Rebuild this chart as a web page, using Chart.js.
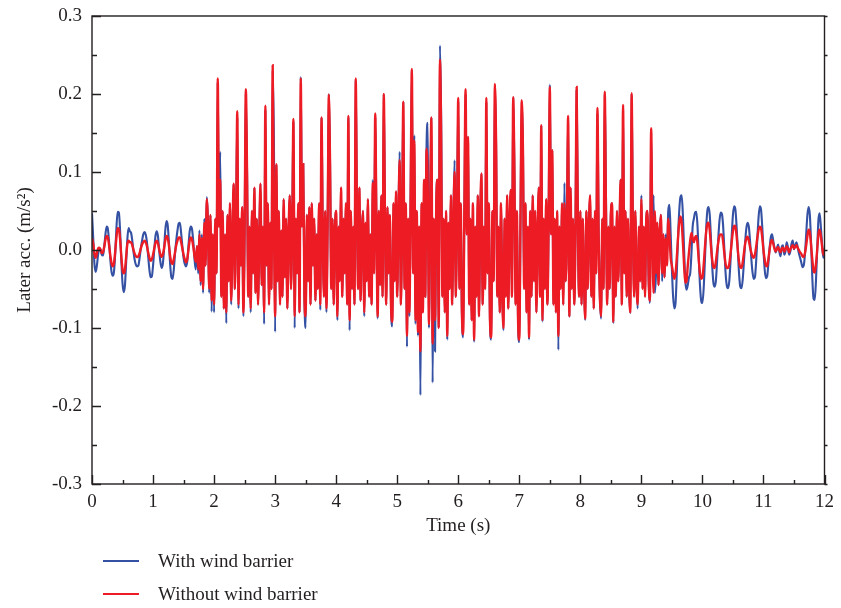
<!DOCTYPE html>
<html>
<head>
<meta charset="utf-8">
<script src="https://cdn.jsdelivr.net/npm/chart.js@4.4.1/dist/chart.umd.min.js"></script>
<style>
  body { margin: 0; background: #fff; }
  #wrap { position: relative; width: 841px; height: 608px; }
  #legend {
    position: absolute; left: 103px; top: 544px;
    font-family: "Liberation Serif", "DejaVu Serif", serif; font-size: 19px; color: #231f20;
  }
  .row { display: flex; align-items: center; height: 33px; }
  .swatch { width: 36px; height: 2px; margin-right: 19px; }
</style>
</head>
<body>
<div id="wrap">
  <canvas id="chart"></canvas>
  <div id="legend"></div>
</div>
<script>
// sampling step of the records (s), one row = 0.2 s
const timeStep = 0.02;

// Lateral acceleration (m/s2), with wind barrier
const withBarrier = [
  0.047, 0.015, -0.018, -0.028, -0.02, -0.006, 0.002, 0.001, -0.006, -0.007,
  0.004, 0.02, 0.03, 0.027, 0.01, -0.012, -0.028, -0.033, -0.028, -0.005,
  0.028, 0.049, 0.048, 0.025, -0.012, -0.043, -0.054, -0.045, -0.015, 0.015,
  0.028, 0.024, 0.022, 0.012, -0.002, -0.013, -0.019, -0.021, -0.02, -0.01,
  0.002, 0.012, 0.02, 0.023, 0.02, 0.01, -0.008, -0.025, -0.035, -0.034,
  // 1 s
  -0.02, 0.0, 0.018, 0.024, 0.018, 0.0, -0.015, -0.023, -0.018, 0.0,
  0.025, 0.037, 0.032, 0.01, -0.018, -0.035, -0.037, -0.025, -0.005, 0.012,
  0.025, 0.034, 0.035, 0.022, 0.005, -0.01, -0.018, -0.021, -0.015, 0.005,
  0.024, 0.03, 0.026, 0.01, -0.012, -0.025, 0.005, -0.03, 0.025, -0.045,
  0.02, -0.055, 0.04, -0.02, 0.068, 0.035, -0.055, 0.045, -0.079, 0.02,
  // 2 s
  -0.08, 0.04, -0.03, 0.215, 0.03, 0.126, -0.06, 0.05, -0.075, 0.02,
  -0.094, 0.045, -0.04, 0.06, -0.07, 0.01, 0.085, -0.05, 0.03, 0.17,
  -0.075, 0.04, -0.02, 0.055, -0.085, 0.02, 0.2, 0.1, -0.06, 0.03,
  -0.08, 0.05, -0.03, 0.08, -0.055, 0.04, -0.07, 0.015, 0.085, -0.045,
  0.03, -0.095, 0.18, -0.02, 0.06, -0.07, 0.035, -0.05, 0.23, 0.14,
  // 3 s
  -0.105, 0.11, -0.04, 0.05, -0.07, 0.025, -0.06, 0.065, -0.035, 0.04,
  -0.075, 0.02, 0.07, -0.05, 0.03, 0.165, -0.1, 0.04, -0.03, 0.06,
  -0.08, 0.222, 0.03, 0.11, -0.06, -0.1, 0.045, -0.04, 0.055, -0.07,
  0.06, -0.02, 0.04, -0.065, 0.02, -0.05, 0.06, -0.077, 0.17, 0.02,
  -0.06, 0.05, -0.08, 0.03, 0.2, 0.11, -0.05, 0.04, -0.07, 0.025,
  // 4 s
  0.05, -0.09, 0.03, -0.04, 0.08, -0.06, 0.04, -0.03, 0.06, -0.07,
  0.17, -0.103, 0.05, -0.05, 0.03, -0.07, 0.218, 0.06, -0.05, 0.08,
  -0.065, 0.02, 0.05, -0.085, 0.035, -0.04, 0.065, -0.06, 0.02, -0.07,
  0.09, -0.03, 0.17, 0.03, -0.088, 0.05, -0.045, 0.07, -0.06, 0.2,
  0.04, -0.07, 0.055, -0.03, 0.045, -0.075, -0.098, 0.06, -0.04, 0.075,
  // 5 s
  -0.06, 0.04, 0.126, -0.07, 0.03, 0.19, -0.05, 0.06, -0.124, 0.04,
  -0.085, 0.07, 0.23, -0.03, 0.147, -0.095, 0.05, -0.11, 0.03, -0.186,
  0.06, -0.08, 0.09, -0.06, 0.13, 0.163, -0.1, 0.05, 0.17, -0.17,
  0.04, -0.13, 0.06, 0.09, -0.1, 0.262, 0.169, -0.06, 0.04, -0.08,
  0.05, -0.115, 0.035, -0.05, 0.07, -0.07, 0.03, 0.115, -0.06, 0.04,
  // 6 s
  0.19, -0.05, 0.06, -0.08, -0.112, 0.05, 0.2, 0.02, 0.145, -0.07,
  0.04, -0.09, 0.06, -0.118, 0.03, -0.06, 0.07, -0.085, 0.04, 0.098,
  -0.07, 0.03, -0.05, 0.19, -0.03, 0.06, -0.09, -0.115, 0.05, -0.04,
  0.21, 0.135, -0.06, 0.03, -0.08, 0.06, -0.05, -0.103, 0.04, -0.06,
  0.07, -0.075, 0.03, 0.077, -0.06, 0.196, 0.1, -0.07, 0.05, -0.09,
  // 7 s
  -0.118, 0.04, 0.19, 0.128, -0.05, 0.06, -0.08, 0.03, -0.115, 0.05,
  -0.06, 0.07, -0.04, 0.05, -0.08, 0.02, 0.08, -0.06, 0.16, -0.092,
  0.04, -0.05, 0.065, -0.07, 0.03, 0.212, 0.02, 0.128, -0.07, 0.04,
  -0.08, 0.05, -0.128, 0.03, -0.05, 0.06, -0.07, 0.086, -0.04, 0.03,
  0.17, -0.086, 0.08, -0.05, 0.04, -0.07, 0.02, 0.205, 0.03, -0.06,
  // 8 s
  0.05, -0.07, 0.04, -0.04, -0.09, 0.05, -0.05, 0.03, 0.07, -0.06,
  0.04, -0.075, 0.05, -0.03, 0.175, 0.02, -0.06, -0.088, 0.04, -0.05,
  0.2, 0.07, -0.07, 0.03, -0.05, 0.045, 0.06, -0.094, 0.03, -0.06,
  0.05, -0.04, 0.02, 0.09, -0.07, 0.18, -0.03, 0.05, -0.06, 0.04,
  -0.05, -0.081, 0.2, 0.04, -0.06, 0.05, -0.04, -0.075, 0.03, -0.04,
  // 9 s
  0.07, -0.05, 0.03, -0.06, 0.04, 0.05, -0.04, -0.068, 0.15, 0.02,
  0.07, -0.055, -0.03, 0.035, -0.045, 0.02, 0.045, -0.04, 0.02, -0.035,
  0.02, -0.01, 0.05, 0.058, 0.02, -0.025, -0.06, -0.075, -0.068, -0.03,
  0.015, 0.05, 0.068, 0.07, 0.045, 0.0, -0.04, -0.051, -0.045, -0.035,
  -0.03, -0.005, 0.03, 0.04, 0.048, 0.049, 0.03, -0.01, -0.045, -0.065,
  // 10 s
  -0.068, -0.05, -0.015, 0.025, 0.05, 0.055, 0.045, 0.015, -0.02, -0.042,
  -0.047, -0.04, -0.015, 0.015, 0.038, 0.048, 0.046, 0.03, 0.0, -0.03,
  -0.046, -0.049, -0.04, -0.015, 0.018, 0.045, 0.056, 0.052, 0.03, 0.0,
  -0.03, -0.047, -0.049, -0.038, -0.015, 0.01, 0.028, 0.035, 0.03, 0.012,
  -0.01, -0.028, -0.037, -0.035, -0.015, 0.015, 0.042, 0.056, 0.052, 0.03,
  // 11 s
  0.0, -0.025, -0.036, -0.034, -0.018, 0.002, 0.016, 0.02, 0.012, 0.003,
  -0.003, 0.002, 0.007, -0.002, -0.008, 0.004, 0.006, -0.006, -0.002, 0.01,
  0.004, -0.006, -0.002, 0.008, 0.012, 0.001, 0.006, 0.01, 0.004, -0.004,
  -0.01, -0.016, -0.022, -0.02, -0.005, 0.02, 0.045, 0.055, 0.045, 0.01,
  -0.035, -0.062, -0.064, -0.04, 0.0, 0.038, 0.047, 0.03, 0.008, -0.01,
  0.0
];

// Lateral acceleration (m/s2), without wind barrier
const withoutBarrier = [
  0.015, 0.008, -0.005, -0.01, -0.004, 0.002, 0.003, 0.0, -0.004, -0.003,
  0.004, 0.013, 0.018, 0.016, 0.006, -0.007, -0.017, -0.021, -0.017, -0.002,
  0.016, 0.028, 0.027, 0.014, -0.008, -0.025, -0.03, -0.025, -0.008, 0.008,
  0.012, 0.01, 0.01, 0.006, 0.0, -0.005, -0.008, -0.009, -0.008, -0.004,
  0.002, 0.007, 0.01, 0.012, 0.01, 0.005, -0.003, -0.01, -0.014, -0.012,
  // 1 s
  -0.006, 0.002, 0.009, 0.012, 0.009, 0.001, -0.006, -0.009, -0.006, 0.002,
  0.012, 0.018, 0.016, 0.006, -0.008, -0.016, -0.018, -0.012, -0.003, 0.006,
  0.012, 0.016, 0.016, 0.01, 0.002, -0.006, -0.012, -0.016, -0.012, 0.0,
  0.012, 0.016, 0.013, 0.004, -0.008, -0.015, 0.005, -0.025, 0.02, -0.04,
  0.015, -0.05, 0.035, -0.02, 0.065, 0.03, -0.05, 0.045, -0.065, 0.02,
  // 2 s
  -0.07, 0.04, -0.03, 0.22, 0.03, 0.09, -0.06, 0.05, -0.075, 0.02,
  -0.08, 0.045, -0.04, 0.06, -0.065, 0.01, 0.085, -0.05, 0.03, 0.178,
  -0.07, 0.04, -0.02, 0.055, -0.08, 0.02, 0.206, 0.1, -0.06, 0.03,
  -0.075, 0.05, -0.03, 0.08, -0.055, 0.04, -0.07, 0.015, 0.085, -0.045,
  0.03, -0.08, 0.185, -0.02, 0.06, -0.07, 0.035, -0.05, 0.237, 0.04,
  // 3 s
  -0.085, 0.11, -0.04, 0.05, -0.07, 0.025, -0.06, 0.065, -0.035, 0.04,
  -0.075, 0.02, 0.07, -0.05, 0.03, 0.168, -0.085, 0.04, -0.03, 0.06,
  -0.08, 0.22, 0.03, 0.11, -0.06, -0.085, 0.045, -0.04, 0.055, -0.07,
  0.06, -0.02, 0.04, -0.065, 0.02, -0.05, 0.06, -0.07, 0.17, 0.02,
  -0.06, 0.05, -0.075, 0.03, 0.199, 0.11, -0.05, 0.04, -0.07, 0.025,
  // 4 s
  0.05, -0.085, 0.03, -0.04, 0.08, -0.06, 0.04, -0.03, 0.06, -0.07,
  0.172, -0.09, 0.05, -0.05, 0.03, -0.07, 0.22, 0.06, -0.05, 0.08,
  -0.065, 0.02, 0.05, -0.08, 0.035, -0.04, 0.065, -0.06, 0.02, -0.07,
  0.086, -0.03, 0.175, 0.03, -0.085, 0.05, -0.045, 0.07, -0.06, 0.2,
  0.04, -0.07, 0.055, -0.03, 0.045, -0.075, -0.092, 0.06, -0.04, 0.075,
  // 5 s
  -0.06, 0.04, 0.115, -0.07, 0.03, 0.19, -0.05, 0.06, -0.11, 0.04,
  -0.08, 0.07, 0.232, -0.03, 0.14, -0.09, 0.05, -0.105, 0.03, -0.13,
  0.06, -0.08, 0.09, -0.06, 0.13, 0.08, -0.095, 0.05, 0.17, -0.12,
  0.04, -0.09, 0.06, 0.09, -0.1, 0.244, 0.145, -0.06, 0.04, -0.08,
  0.05, -0.11, 0.035, -0.05, 0.07, -0.07, 0.03, 0.1, -0.06, 0.04,
  // 6 s
  0.195, -0.05, 0.06, -0.08, -0.108, 0.05, 0.206, 0.02, 0.145, -0.07,
  0.04, -0.09, 0.06, -0.115, 0.03, -0.06, 0.07, -0.085, 0.04, 0.098,
  -0.07, 0.03, -0.05, 0.195, -0.03, 0.06, -0.09, -0.112, 0.05, -0.04,
  0.213, 0.135, -0.06, 0.03, -0.08, 0.06, -0.05, -0.1, 0.04, -0.06,
  0.07, -0.075, 0.03, 0.077, -0.06, 0.196, 0.1, -0.07, 0.05, -0.09,
  // 7 s
  -0.115, 0.04, 0.192, 0.128, -0.05, 0.06, -0.08, 0.03, -0.112, 0.05,
  -0.06, 0.07, -0.04, 0.05, -0.08, 0.02, 0.08, -0.06, 0.16, -0.09,
  0.04, -0.05, 0.065, -0.07, 0.03, 0.209, 0.02, 0.128, -0.07, 0.04,
  -0.08, 0.05, -0.11, 0.03, -0.05, 0.06, -0.07, 0.06, -0.04, 0.03,
  0.172, -0.085, 0.08, -0.05, 0.04, -0.07, 0.02, 0.209, 0.03, -0.06,
  // 8 s
  0.05, -0.07, 0.04, -0.04, -0.088, 0.05, -0.05, 0.03, 0.07, -0.06,
  0.04, -0.075, 0.05, -0.03, 0.182, 0.02, -0.06, -0.085, 0.04, -0.05,
  0.203, 0.05, -0.07, 0.03, -0.05, 0.045, 0.06, -0.092, 0.03, -0.06,
  0.05, -0.04, 0.02, 0.09, -0.07, 0.186, -0.03, 0.05, -0.06, 0.04,
  -0.05, -0.08, 0.201, 0.04, -0.06, 0.05, -0.04, -0.07, 0.03, -0.04,
  // 9 s
  0.065, -0.05, 0.03, -0.06, 0.04, 0.05, -0.04, -0.065, 0.156, 0.02,
  -0.055, 0.05, -0.03, 0.035, -0.045, 0.02, 0.045, -0.03, 0.02, -0.035,
  0.015, -0.02, 0.04, 0.02, -0.01, -0.02, -0.03, -0.037, -0.03, -0.01,
  0.015, 0.035, 0.043, 0.035, 0.01, -0.02, -0.042, -0.04, -0.02, -0.003,
  0.012, 0.022, 0.015, 0.01, 0.016, 0.018, 0.008, -0.012, -0.03, -0.037,
  // 10 s
  -0.035, -0.02, 0.002, 0.022, 0.033, 0.035, 0.025, 0.005, -0.012, -0.022,
  -0.023, -0.015, -0.002, 0.01, 0.018, 0.02, 0.02, 0.01, -0.005, -0.018,
  -0.023, -0.023, -0.018, -0.005, 0.01, 0.024, 0.031, 0.03, 0.018, 0.0,
  -0.015, -0.022, -0.023, -0.016, -0.004, 0.008, 0.015, 0.017, 0.012, 0.004,
  -0.003, -0.008, -0.01, -0.006, 0.004, 0.016, 0.026, 0.03, 0.028, 0.016,
  // 11 s
  0.0, -0.012, -0.02, -0.021, -0.012, 0.0, 0.01, 0.013, 0.008, 0.002,
  -0.002, 0.001, 0.004, 0.0, -0.003, 0.002, 0.003, -0.002, 0.001, 0.005,
  0.002, -0.003, 0.001, 0.004, 0.006, 0.002, 0.004, 0.006, 0.003, 0.0,
  -0.003, -0.005, -0.008, -0.009, -0.004, 0.006, 0.018, 0.026, 0.022, 0.006,
  -0.012, -0.026, -0.029, -0.018, 0.0, 0.02, 0.026, 0.018, 0.005, -0.006,
  0.002
];

const seriesLabels = ['With wind barrier', 'Without wind barrier'];
const seriesColors = ['#3551a4', '#ed1c24'];

const textColor = '#231f20';
const serif = '"Liberation Serif", "DejaVu Serif", serif';

function toPoints(arr) {
  return arr.map((v, i) => ({ x: i * timeStep, y: v }));
}

// inward ticks + closed frame, as in the original figure
const frameTicks = {
  id: 'frameTicks',
  afterDraw(chart) {
    const { ctx, chartArea: a, scales: { x, y } } = chart;
    ctx.save();
    ctx.strokeStyle = textColor;
    ctx.lineWidth = 1.4;
    ctx.strokeRect(a.left, a.top, a.right - a.left, a.bottom - a.top);
    ctx.beginPath();
    for (let i = 0; i <= 12; i++) {
      const py = Math.round(y.getPixelForValue(-0.3 + i * 0.05)) + 0.5;
      const len = i % 2 === 0 ? 9 : 5;
      ctx.moveTo(a.left, py);
      ctx.lineTo(a.left + len, py);
      ctx.moveTo(a.right, py);
      ctx.lineTo(a.right + 3, py);
    }
    for (let i = 0; i <= 24; i++) {
      const px = Math.round(x.getPixelForValue(i * 0.5)) + 0.5;
      const len = i % 2 === 0 ? 9 : 4;
      ctx.moveTo(px, a.bottom);
      ctx.lineTo(px, a.bottom - len);
    }
    ctx.stroke();
    ctx.restore();
  }
};

const chart = new Chart(document.getElementById('chart'), {
  type: 'line',
  data: {
    datasets: [
      {
        label: seriesLabels[0],
        data: toPoints(withBarrier),
        borderColor: seriesColors[0],
        borderWidth: 2.1,
        order: 1
      },
      {
        label: seriesLabels[1],
        data: toPoints(withoutBarrier),
        borderColor: seriesColors[1],
        borderWidth: 2.4,
        order: 0
      }
    ]
  },
  options: {
    responsive: true,
    maintainAspectRatio: false,
    animation: false,
    layout: { padding: { top: 16, right: 16, left: 0, bottom: 0 } },
    elements: {
      point: { radius: 0 },
      line: { cubicInterpolationMode: 'monotone' }
    },
    plugins: {
      legend: { display: false },
      tooltip: { enabled: false }
    },
    scales: {
      x: {
        type: 'linear',
        min: 0,
        max: 12,
        afterFit: (s) => { s.height = 124; },
        grid: { display: false, drawTicks: false },
        border: { display: false },
        ticks: { stepSize: 1, padding: 7, color: textColor, font: { family: serif, size: 19 } },
        title: {
          display: true, text: 'Time (s)', color: textColor,
          font: { family: serif, size: 19 }, padding: { top: 0, bottom: 71 }
        }
      },
      y: {
        min: -0.3,
        max: 0.3,
        afterFit: (s) => { s.width = 92; s.paddingTop = 0; s.paddingBottom = 0; },
        grid: { display: false, drawTicks: false },
        border: { display: false },
        ticks: {
          stepSize: 0.1, padding: 10, color: textColor, font: { family: serif, size: 19 },
          callback: (v) => (Math.abs(v) < 1e-9 ? '0.0' : v.toFixed(1))
        },
        title: {
          display: true, text: 'Later acc. (m/s²)', color: textColor,
          font: { family: serif, size: 19 }, padding: { top: 14, bottom: 0 }
        }
      }
    }
  },
  plugins: [frameTicks]
});

// legend under the plot, one entry per row
const legendBox = document.getElementById('legend');
chart.data.datasets.forEach((ds) => {
  const row = document.createElement('div');
  row.className = 'row';
  const sw = document.createElement('span');
  sw.className = 'swatch';
  sw.style.background = ds.borderColor;
  const txt = document.createElement('span');
  txt.textContent = ds.label;
  row.appendChild(sw);
  row.appendChild(txt);
  legendBox.appendChild(row);
});
</script>
</body>
</html>
